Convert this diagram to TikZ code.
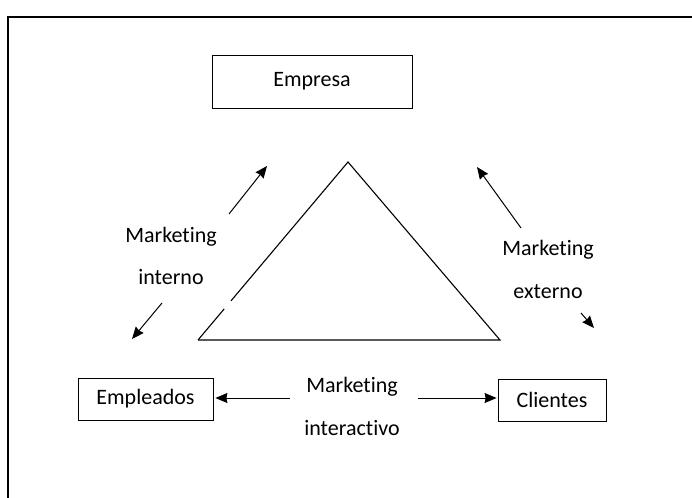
\documentclass[tikz,border=0pt]{standalone}
\usepackage{fontspec}
\setmainfont[Ligatures=NoCommon]{Carlito}
\usetikzlibrary{positioning,arrows.meta,calc}

\tikzset{
    box/.style={draw, thick, minimum height=42pt, inner sep=0pt},
    lbl/.style={align=center, inner sep=0pt},
    flow/.style={line width=1pt, -{Stealth[length=12pt,width=10pt,inset=1pt]}},
}

\begin{document}
\begin{tikzpicture}[x=1pt, y=-1pt, line width=1.1pt, font=\fontsize{22}{26}\selectfont]
        \useasboundingbox (0,0) rectangle (692,497);
        \clip (0,0) rectangle (692,497);

        % frame around the figure
        \draw (8,520) -- (8,17) -- (720,17);

        % the three actors
        \node[box, minimum width=200pt, minimum height=53pt] (empresa) at (312,81.5) {Empresa};
        \node[box, minimum width=135pt] (empleados) at (145.5,399) {Empleados};
        \node[box, minimum width=108pt] (clientes) at (552,400) {Clientes};

        % triangle in the middle (small break in the left side)
        \coordinate (tl) at (198,340);
        \coordinate (tt) at (348,162);
        \coordinate (tr) at (500,340);
        \draw (tl) -- ($(tl)!0.175!(tt)$);
        \draw ($(tl)!0.22!(tt)$) -- (tt) -- (tr) -- (tl);

        % labels
        \node[lbl] (mint) at (171,237) {Marketing};
        \node[lbl] (int) at (171,277) {interno};
        \node[lbl] (mext) at (548,250) {Marketing};
        \node[lbl] (ext) at (548,292) {externo};
        \node[lbl] (mia) at (352,387) {Marketing};
        \node[lbl] (ia) at (352,428) {interactivo};

        % free arrow ends
        \coordinate (a1) at (229,214);
        \coordinate (a2) at (267,166);
        \coordinate (a3) at (162,303);
        \coordinate (a4) at (132,339);
        \coordinate (a5) at (521,228);
        \coordinate (a6) at (477,167);
        \coordinate (a7) at (581,313);
        \coordinate (a8) at (594,328);
        \coordinate (a9) at (290,398);
        \coordinate (a10) at (418,398);

        \draw[flow] (a1) -- (a2);
        \draw[flow] (a3) -- (a4);
        \draw[flow] (a5) -- (a6);
        \draw[flow] (a7) -- (a8);
        \draw[flow] (a9) -- ([xshift=2pt]a9 -| empleados.east);
        \draw[flow] (a10) -- ([xshift=-1pt]a10 -| clientes.west);
\end{tikzpicture}
\end{document}
